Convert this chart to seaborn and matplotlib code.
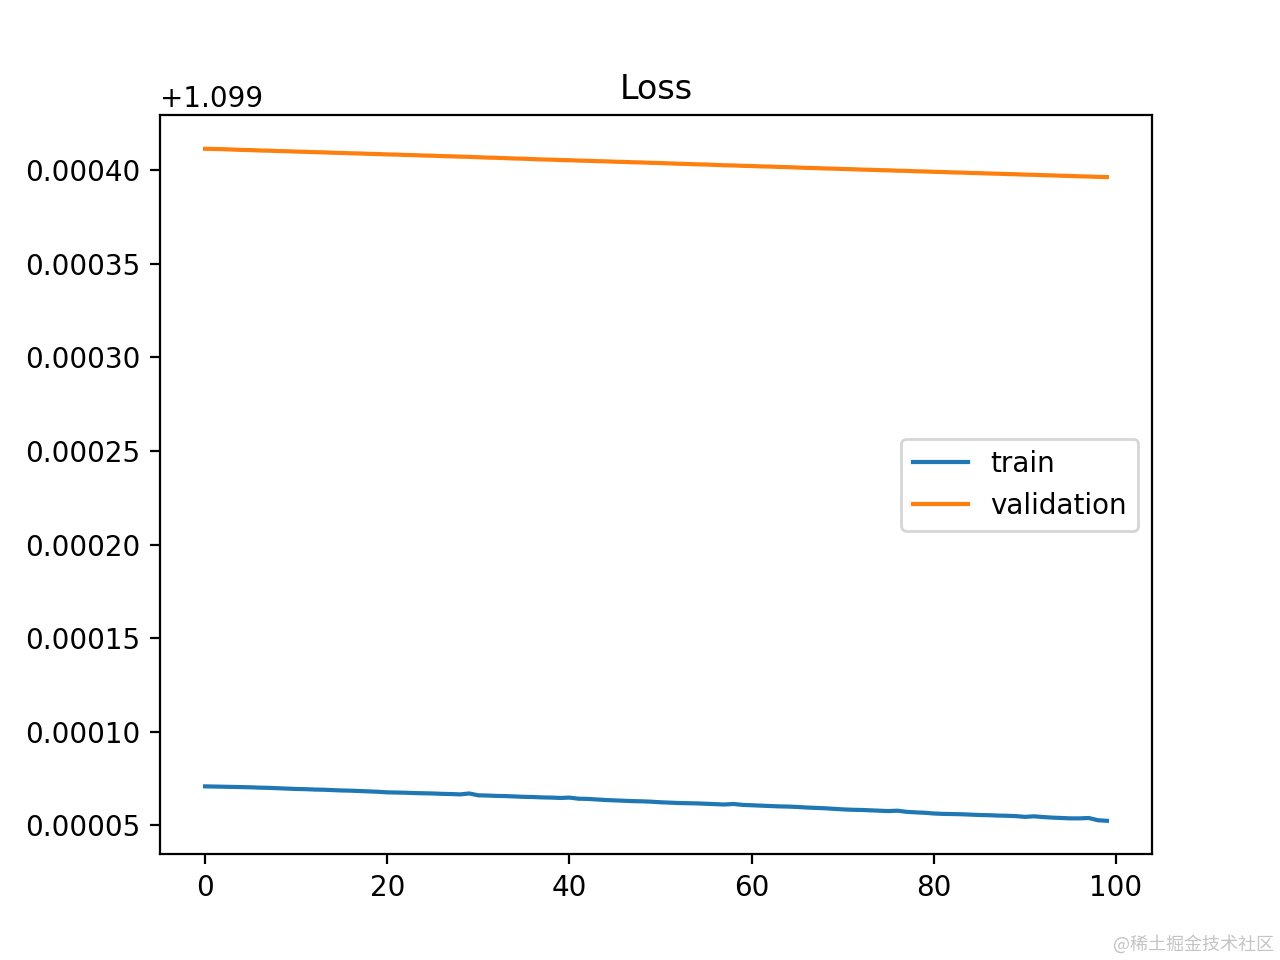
"""
Training curves: loss per epoch for train and validation sets.
"""

import matplotlib
matplotlib.use('Agg')
import matplotlib.pyplot as plt
import seaborn as sns
import numpy as np

# Epoch index
epochs = list(range(100))

# Loss values
train_loss = [
    1.0990708, 1.0990707, 1.0990706, 1.0990705, 1.0990704, 1.0990703, 1.0990701, 1.0990700, 1.0990698, 1.0990696,
    1.0990694, 1.0990693, 1.0990691, 1.0990690, 1.0990688, 1.0990686, 1.0990685, 1.0990683, 1.0990681, 1.0990679,
    1.0990676, 1.0990675, 1.0990674, 1.0990672, 1.0990671, 1.0990670, 1.0990668, 1.0990667, 1.0990665, 1.0990670,
    1.0990660, 1.0990659, 1.0990657, 1.0990656, 1.0990654, 1.0990652, 1.0990651, 1.0990649, 1.0990648, 1.0990646,
    1.0990648, 1.0990642, 1.0990641, 1.0990638, 1.0990635, 1.0990633, 1.0990631, 1.0990629, 1.0990628, 1.0990626,
    1.0990623, 1.0990621, 1.0990619, 1.0990618, 1.0990617, 1.0990615, 1.0990613, 1.0990611, 1.0990614, 1.0990609,
    1.0990607, 1.0990605, 1.0990603, 1.0990601, 1.0990600, 1.0990598, 1.0990595, 1.0990593, 1.0990591, 1.0990588,
    1.0990585, 1.0990583, 1.0990582, 1.0990580, 1.0990578, 1.0990576, 1.0990578, 1.0990572, 1.0990569, 1.0990567,
    1.0990563, 1.0990561, 1.0990560, 1.0990559, 1.0990557, 1.0990555, 1.0990554, 1.0990552, 1.0990551, 1.0990549,
    1.0990545, 1.0990548, 1.0990544, 1.0990541, 1.0990539, 1.0990537, 1.0990537, 1.0990539, 1.0990527, 1.0990524,
]

val_loss = [
    1.0994114, 1.0994113, 1.0994112, 1.0994110, 1.0994108, 1.0994107, 1.0994105, 1.0994104, 1.0994102, 1.0994101,
    1.0994099, 1.0994098, 1.0994096, 1.0994095, 1.0994093, 1.0994092, 1.0994090, 1.0994089, 1.0994087, 1.0994086,
    1.0994084, 1.0994083, 1.0994081, 1.0994080, 1.0994078, 1.0994077, 1.0994075, 1.0994074, 1.0994072, 1.0994071,
    1.0994069, 1.0994067, 1.0994066, 1.0994064, 1.0994062, 1.0994061, 1.0994059, 1.0994057, 1.0994056, 1.0994054,
    1.0994053, 1.0994051, 1.0994050, 1.0994048, 1.0994047, 1.0994045, 1.0994044, 1.0994042, 1.0994041, 1.0994039,
    1.0994038, 1.0994036, 1.0994034, 1.0994033, 1.0994031, 1.0994030, 1.0994028, 1.0994026, 1.0994025, 1.0994023,
    1.0994022, 1.0994020, 1.0994019, 1.0994017, 1.0994016, 1.0994014, 1.0994012, 1.0994011, 1.0994009, 1.0994008,
    1.0994006, 1.0994005, 1.0994003, 1.0994002, 1.0994000, 1.0993999, 1.0993997, 1.0993996, 1.0993994, 1.0993993,
    1.0993991, 1.0993990, 1.0993988, 1.0993987, 1.0993985, 1.0993984, 1.0993982, 1.0993981, 1.0993979, 1.0993978,
    1.0993976, 1.0993975, 1.0993973, 1.0993972, 1.0993970, 1.0993969, 1.0993967, 1.0993966, 1.0993964, 1.0993963,
]

series_labels = ['train', 'validation']
title = 'Loss'
watermark = '@稀土掘金技术社区'


def main():
    fig, ax = plt.subplots(figsize=(6.4, 4.8), dpi=200)

    sns.lineplot(x=epochs, y=train_loss, label=series_labels[0], ax=ax)
    sns.lineplot(x=epochs, y=val_loss, label=series_labels[1], ax=ax)

    ax.set_title(title)
    ax.legend(loc='center right')

    # watermark in the lower-right corner
    fig.text(0.995, 0.007, watermark, ha='right', va='bottom', fontsize=6.5,
             color='#c4c4c4', family=['Noto Sans CJK SC', 'DejaVu Sans'])

    fig.savefig('out.png', dpi=200)
    plt.close(fig)


if __name__ == "__main__":
    main()
